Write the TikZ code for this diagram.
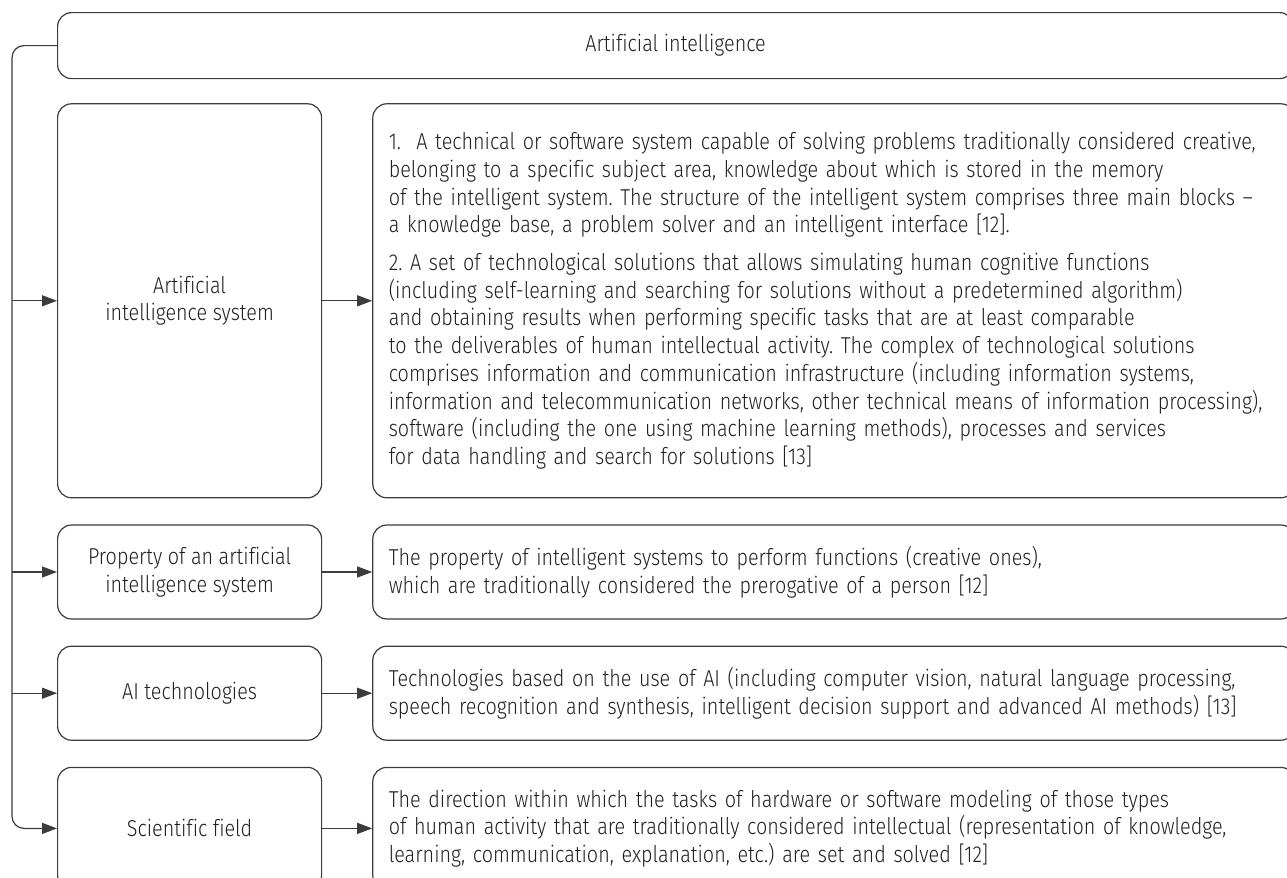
\documentclass[tikz,border=0pt]{standalone}
\usepackage{fontspec}
\setmainfont{Fira Sans}[UprightFont={* Light}, FakeStretch=0.86, Ligatures={NoCommon}]
\usepackage{tikz}
\usetikzlibrary{positioning, arrows.meta}

\definecolor{linegray}{RGB}{60,60,60}
\definecolor{textgray}{RGB}{35,31,32}

\frenchspacing

\begin{document}
\begin{tikzpicture}[
    x=0.5pt, y=-0.5pt,
    font=\fontsize{11.5}{13.85}\selectfont,
    box/.style={draw=linegray, line width=0.6pt, rounded corners=7pt, inner sep=0pt, text=textgray},
    term/.style={box, align=center, minimum width=132pt},
    defn/.style={box, align=left, text width=445pt, inner xsep=8pt},
    arrow/.style={draw=linegray, line width=0.6pt, -{Triangle[length=7.5pt, width=5.5pt]}},
    node distance=13pt and 25pt,
]
\useasboundingbox (0,0) rectangle (1287,878);

% --- TOP: the notion itself ---
\node[box, anchor=north west, minimum width=618pt, minimum height=33pt] (ai) at (57,12) {Artificial intelligence};

% --- LEFT column: terms ---
\node[term, below=12pt of ai.south west, anchor=north west, minimum height=197pt] (sys) {Artificial\\intelligence system};
\node[term, below=of sys, minimum height=47pt] (prop) {Property of an artificial\\intelligence system};
\node[term, below=of prop, minimum height=47pt] (tech) {AI technologies};
\node[term, below=of tech, minimum height=61pt] (sci) {Scientific field};

% --- RIGHT column: definitions ---
\node[defn, right=of sys, minimum height=197pt] (sys-def) {
    1.~ A technical or software system capable of solving problems traditionally considered creative,\\
    belonging to a specific subject area, knowledge about which is stored in the memory\\
    of the intelligent system. The structure of the intelligent system comprises three main blocks --\\
    a knowledge base, a problem solver and an intelligent interface [12].\\[5pt]
    2. A set of technological solutions that allows simulating human cognitive functions\\
    (including self-learning and searching for solutions without a predetermined algorithm)\\
    and obtaining results when performing specific tasks that are at least comparable\\
    to the deliverables of human intellectual activity. The complex of technological solutions\\
    comprises information and communication infrastructure (including information systems,\\
    information and telecommunication networks, other technical means of information processing),\\
    software (including the one using machine learning methods), processes and services\\
    for data handling and search for solutions [13]
};
\node[defn, right=of prop, minimum height=47pt] (prop-def) {
    The property of intelligent systems to perform functions (creative ones),\\
    which are traditionally considered the prerogative of a person [12]
};
\node[defn, right=of tech, minimum height=47pt] (tech-def) {
    Technologies based on the use of AI (including computer vision, natural language processing,\\
    speech recognition and synthesis, intelligent decision support and advanced AI methods) [13]
};
\node[defn, right=of sci, minimum height=61pt] (sci-def) {
    The direction within which the tasks of hardware or software modeling of those types\\
    of human activity that are traditionally considered intellectual (representation of knowledge,\\
    learning, communication, explanation, etc.) are set and solved [12]
};

% Bus from the top box down the left side
\coordinate (bus) at ([xshift=-22.5pt]ai.west);
\draw[arrow, rounded corners=6pt] (ai.west) -- (bus) |- (sci.west);
\foreach \n in {sys, prop, tech}
    \draw[arrow] (bus |- \n.west) -- (\n.west);

% Terms to their definitions
\foreach \n in {sys, prop, tech, sci}
    \draw[arrow] (\n.east) -- (\n-def.west);

\end{tikzpicture}
\end{document}
